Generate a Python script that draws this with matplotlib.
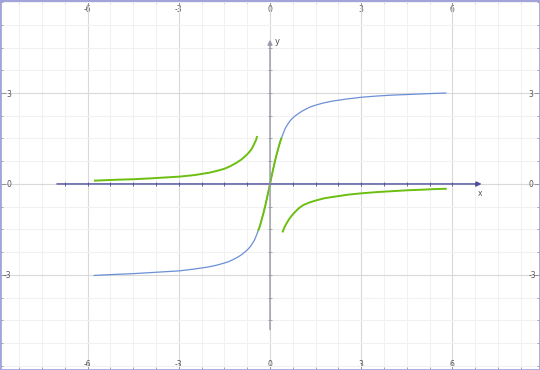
import matplotlib

matplotlib.use("Agg")

import matplotlib.pyplot as plt
import numpy as np

# values
BLUE_X = [-5.78, -5.2, -4.5, -4.0, -3.5, -3.0, -2.5, -2.03, -1.75, -1.5, -1.35, -1.2, -1.05, -0.93,
          -0.82, -0.73, -0.65, -0.57, -0.5, -0.44, -0.38, -0.33, -0.28, -0.22, -0.16, -0.1, -0.05, 0.0,
          0.05, 0.1, 0.16, 0.22, 0.28, 0.33, 0.38, 0.44, 0.5, 0.57, 0.65, 0.73, 0.82, 0.93, 1.05,
          1.2, 1.35, 1.5, 1.75, 2.03, 2.5, 3.0, 3.5, 4.0, 4.5, 5.2, 5.78]
BLUE_Y = [-3.02, -2.99, -2.96, -2.93, -2.9, -2.87, -2.81, -2.74, -2.68, -2.61, -2.56, -2.49, -2.41, -2.33,
          -2.24, -2.16, -2.07, -1.95, -1.83, -1.68, -1.52, -1.38, -1.2, -0.98, -0.74, -0.47, -0.24, 0.0,
          0.24, 0.47, 0.74, 0.98, 1.2, 1.38, 1.52, 1.68, 1.83, 1.95, 2.07, 2.16, 2.24, 2.32, 2.4,
          2.48, 2.55, 2.6, 2.67, 2.73, 2.8, 2.86, 2.9, 2.93, 2.95, 2.98, 3.0]

GREEN_LEFT_X = [-5.76, -5.0, -4.5, -4.0, -3.5, -3.0, -2.5, -2.0, -1.75, -1.5, -1.3, -1.1, -0.95,
                -0.82, -0.7, -0.6, -0.52, -0.46, -0.43]
GREEN_LEFT_Y = [0.11, 0.14, 0.155, 0.18, 0.21, 0.24, 0.29, 0.37, 0.43, 0.5, 0.59, 0.7, 0.8,
                0.91, 1.03, 1.16, 1.32, 1.45, 1.55]

GREEN_MID_X = [-0.38, -0.33, -0.28, -0.22, -0.16, -0.1, -0.05, 0.0, 0.05, 0.1, 0.16, 0.22, 0.28, 0.33, 0.37]
GREEN_MID_Y = [-1.52, -1.38, -1.2, -0.98, -0.74, -0.47, -0.24, 0.0, 0.24, 0.47, 0.74, 0.98, 1.2, 1.38, 1.5]

GREEN_RIGHT_X = [0.42, 0.48, 0.55, 0.63, 0.72, 0.82, 0.95, 1.09, 1.3, 1.53, 1.8, 2.19, 2.6, 3.0,
                 3.5, 4.0, 4.5, 5.0, 5.4, 5.78]
GREEN_RIGHT_Y = [-1.57, -1.42, -1.29, -1.16, -1.04, -0.93, -0.8, -0.7, -0.61, -0.54, -0.47, -0.41, -0.35, -0.31,
                 -0.27, -0.24, -0.21, -0.19, -0.17, -0.16]

X_TICKS = [-6, -3, 0, 3, 6]
X_TICK_LABELS = ["-6", "-3", "0", "3", "6"]
Y_TICKS = [-3, 0, 3]
Y_TICK_LABELS = ["-3", "0", "3"]

AXIS_COLOR = "#4e4e9c"
FRAME_COLOR = "#a3a3dc"
BLUE = "#6b8fd6"
GREEN = "#6cbf10"
LABEL_COLOR = "#555555"

fig = plt.figure(figsize=(5.4, 3.7), dpi=100)
ax = fig.add_axes([0, 0, 1, 1])
ax.set_xlim(-8.88, 8.88)
ax.set_ylim(-6.14, 6.07)

# grid
minor = np.arange(-8.25, 8.26, 0.75)
ax.set_xticks(minor, minor=True)
ax.set_yticks(minor[(minor > -6.2) & (minor < 6.1)], minor=True)
ax.set_xticks(X_TICKS)
ax.set_xticklabels(X_TICK_LABELS)
ax.set_yticks(Y_TICKS)
ax.set_yticklabels(Y_TICK_LABELS)
ax.grid(True, which="minor", color="#f1f1f1", linewidth=0.8)
ax.grid(True, which="major", color="#d9d9d9", linewidth=0.8)
ax.set_axisbelow(True)

for spine in ax.spines.values():
    spine.set_color(FRAME_COLOR)
    spine.set_linewidth(2)

ax.tick_params(which="both", direction="in", top=True, right=True, color="#888888")
ax.tick_params(which="major", length=4, width=0.6)
ax.tick_params(which="minor", length=2.5, width=0.5)
ax.tick_params(axis="x", which="major", labeltop=False, labelbottom=True, pad=-7.5,
               labelsize=5.5, labelcolor=LABEL_COLOR)
ax.tick_params(axis="y", which="major", labelleft=True, labelright=True, pad=-8,
               labelsize=5.5, labelcolor=LABEL_COLOR)

top = ax.secondary_xaxis("top")
top.set_xticks(X_TICKS)
top.set_xticklabels(X_TICK_LABELS)
top.tick_params(direction="in", length=0, pad=-10, labelsize=5.5, labelcolor=LABEL_COLOR)
top.spines["top"].set_color(FRAME_COLOR)
top.spines["top"].set_linewidth(2)

# coordinate axes with arrows
ax.annotate("", xy=(7.05, 0), xytext=(-7.1, 0),
            arrowprops=dict(arrowstyle="-|>", color=AXIS_COLOR, lw=1.0, mutation_scale=7))
ax.annotate("", xy=(0, 4.85), xytext=(0, -4.9),
            arrowprops=dict(arrowstyle="-|>", color="#9a9aa8", lw=1.0, mutation_scale=7))
axis_ticks = np.arange(-6.75, 6.76, 0.75)
ax.plot(axis_ticks, np.zeros_like(axis_ticks), linestyle="none", marker="|",
        markersize=3, color=AXIS_COLOR, markeredgewidth=0.6)
y_axis_ticks = axis_ticks[np.abs(axis_ticks) < 4.7]
ax.plot(np.zeros_like(y_axis_ticks), y_axis_ticks, linestyle="none", marker="_",
        markersize=3, color="#9a9aa8", markeredgewidth=0.6)
ax.text(6.9, -0.17, "x", fontsize=5.5, color=LABEL_COLOR, ha="center", va="top")
ax.text(0.17, 4.7, "y", fontsize=6, color=LABEL_COLOR, ha="left", va="center")

# curves
ax.plot(BLUE_X, BLUE_Y, color=BLUE, linewidth=0.9)
ax.plot(GREEN_LEFT_X, GREEN_LEFT_Y, color=GREEN, linewidth=1.4)
ax.plot(GREEN_MID_X, GREEN_MID_Y, color=GREEN, linewidth=1.4)
ax.plot(GREEN_RIGHT_X, GREEN_RIGHT_Y, color=GREEN, linewidth=1.4)

fig.savefig("out.png", dpi=100)
